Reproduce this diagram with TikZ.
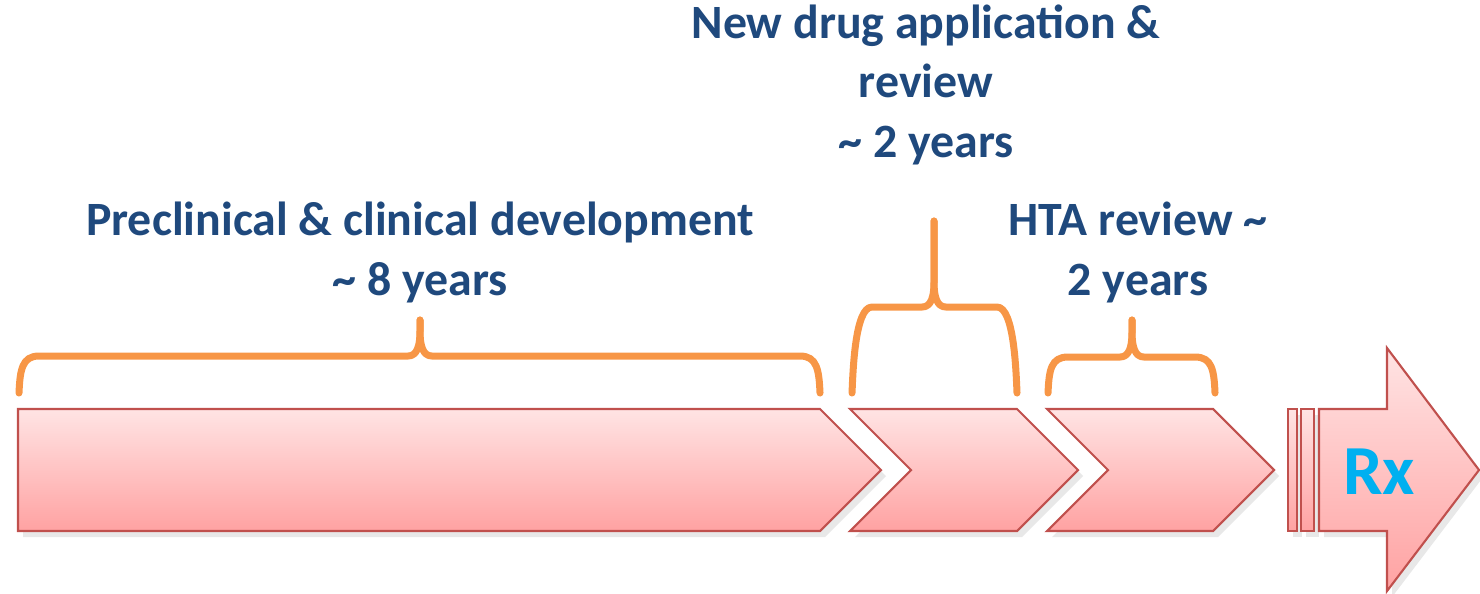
\documentclass[tikz,border=0pt]{standalone}
\usepackage{fontspec}
\setmainfont{Carlito}
\usepackage{tikz}
\usetikzlibrary{shadows,positioning}

\definecolor{stagetop}{RGB}{255,228,228}
\definecolor{stagebot}{RGB}{255,162,162}
\definecolor{stageline}{RGB}{192,80,77}
\definecolor{braceorange}{RGB}{247,150,70}
\definecolor{labelblue}{RGB}{31,73,125}
\definecolor{rxblue}{RGB}{0,176,240}

\tikzset{
  stage/.style={draw=stageline, line width=0.6pt, line join=miter, top color=stagetop, bottom color=stagebot,
    drop shadow={shadow xshift=0.05cm, shadow yshift=-0.06cm, opacity=0.18}},
  bracket/.style={draw=braceorange, line width=0.07cm, line cap=round, line join=round},
  phase/.style={text=labelblue, font=\bfseries\fontsize{13.6}{16.8}\selectfont, align=center, anchor=base}
}

\newcommand\timebrace[5]{%
  \draw[bracket] (#1,393) .. controls (#1+1,370) and (#1+3,#4) .. (#1+20,#4) -- (#3-12,#4)
    .. controls (#3-3,#4) and (#3,#4-10) .. (#3,#4-25) -- (#3,#5);
  \draw[bracket] (#3,#5) -- (#3,#4-25) .. controls (#3,#4-10) and (#3+3,#4) .. (#3+12,#4)
    -- (#2-20,#4) .. controls (#2-3,#4) and (#2-1,370) .. (#2,393);}

\begin{document}
\begin{tikzpicture}[x=0.01cm,y=-0.01cm]
    \useasboundingbox (0,0) rectangle (1480,593);

    \draw[stage] (18,409) -- (820,409) -- (881,470) -- (820,531) -- (18,531) -- cycle;
    \draw[stage] (850,409) -- (1017,409) -- (1078,470) -- (1017,531) -- (850,531) -- (911,470) -- cycle;
    \draw[stage] (1047,409) -- (1213,409) -- (1274,470) -- (1213,531) -- (1047,531) -- (1108,470) -- cycle;
    \draw[stage] (1288,409) rectangle (1297,531);
    \draw[stage] (1301,409) rectangle (1314,531);
    \draw[stage] (1319,409) -- (1387,409) -- (1387,348) -- (1479,470) -- (1387,591) -- (1387,531) -- (1319,531) -- cycle;
    \node[text=rxblue, font=\bfseries\fontsize{20}{24}\selectfont] (rx) at (1379,472) {Rx};

    \timebrace{19}{820}{420}{356}{320}
    \timebrace{852}{1017}{934}{307}{221}
    \timebrace{1048}{1215}{1132}{357}{320}

    \node[phase] (preclin) at (420,295) {Preclinical \& clinical development\\\textasciitilde{} 8 years};
    \node[phase] (nda) at (926,157) {New drug application \&\\review\\\textasciitilde{} 2 years};
    \node[phase] (hta) at (1138,295) {HTA review \textasciitilde{}\\2 years};
\end{tikzpicture}
\end{document}
